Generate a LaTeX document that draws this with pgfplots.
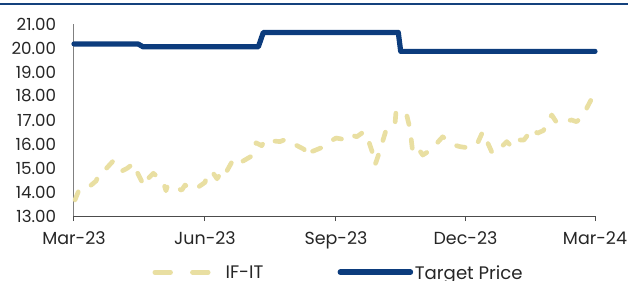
\documentclass[border=0pt]{standalone}
\usepackage{pgfplots}
\pgfplotsset{compat=1.18}
\usepackage{fontspec}
\setmainfont{Poppins}
\definecolor{khaki}{RGB}{233,223,162}
\definecolor{navy}{RGB}{12,60,125}
\definecolor{topblue}{RGB}{20,65,125}
\definecolor{axgray}{RGB}{128,128,128}
\definecolor{txt}{RGB}{38,38,38}
\pgfplotstableread{
day val
0.7 13.67
3.0 14.01
6.5 14.01
15.5 14.46
17.8 14.78
21.3 14.89
27.6 15.30
31.1 15.20
34.2 14.89
37.4 14.99
39.8 15.10
41.7 15.20
43.6 14.92
49.2 14.25
52.2 14.57
55.7 14.78
62.7 14.43
64.6 14.05
65.8 14.29
75.7 14.08
78.0 14.29
81.5 14.15
85.0 14.11
92.0 14.40
94.1 14.82
97.6 14.80
100.5 14.55
102.6 14.75
104.9 14.61
111.9 15.36
116.1 15.20
120.8 15.36
126.0 15.54
127.9 16.05
131.9 15.93
133.5 16.10
134.9 16.03
137.7 16.14
144.7 16.10
148.9 16.20
152.9 16.05
161.6 15.78
163.9 15.47
167.0 15.68
175.6 15.89
179.8 16.10
184.1 16.25
191.6 16.17
195.1 16.38
198.6 16.30
202.1 16.45
205.1 16.47
209.8 15.61
211.5 15.13
215.0 15.75
219.2 16.58
222.0 16.72
225.5 16.83
226.2 17.35
229.0 17.21
231.3 17.28
233.7 17.21
236.0 16.65
237.9 15.68
241.2 15.86
245.0 15.54
252.4 15.82
255.9 16.10
259.0 16.30
266.9 15.96
271.2 15.89
274.7 15.86
282.9 15.96
287.1 16.51
293.4 15.68
297.0 15.64
299.3 15.75
301.6 15.96
304.0 16.10
306.3 15.96
310.5 15.92
312.2 16.17
316.1 16.17
322.2 16.65
325.5 16.45
329.7 16.56
335.6 17.21
339.1 16.89
342.6 16.93
349.6 17.00
353.1 16.93
357.4 17.17
363.7 17.90
366.0 18.18
}\ififit
\pgfplotstableread{
day val
0 20.17
45 20.17
48.5 20.05
129.5 20.05
133 20.65
227.8 20.65
229.5 19.86
366 19.86
}\target
\begin{document}
\begin{tikzpicture}
\path[use as bounding box] (-55.5pt,-48pt) rectangle (415.5pt,162pt);
\draw[topblue, line width=2pt] (-55.5pt,159pt) -- (415.5pt,159pt);
\begin{axis}[
  at={(0pt,0pt)}, anchor=south west,
  scale only axis, width=390.75pt, height=144pt,
  xmin=0, xmax=366, ymin=13, ymax=21,
  axis x line*=bottom, axis y line*=left,
  axis line style={-},
  x axis line style={color=black!70, line width=0.75pt},
  y axis line style={color=axgray, line width=0.75pt},
  xtick={0,92,184,275,366},
  xticklabels={Mar-23,Jun-23,Sep-23,Dec-23,Mar-24},
  ytick={13,14,15,16,17,18,19,20,21},
  yticklabels={13.00,14.00,15.00,16.00,17.00,18.00,19.00,20.00,21.00},
  ytick style={draw=none},
  xtick style={color=black!70, line width=0.75pt},
  tick align=outside, major tick length=3.75pt,
  yticklabel shift=9.5pt,
  xticklabel shift=7.5pt,
  yticklabel style={font=\fontsize{12.5}{14}\selectfont, text=txt, inner sep=0pt, anchor=east},
  xticklabel style={font=\fontsize{13.1}{15}\selectfont, text=txt, inner sep=0pt, anchor=north},
  legend style={at={(0.1507,-0.2930)}, anchor=west, draw=none, fill=none,
    inner sep=0pt, outer sep=0pt, column sep=0pt,
    font=\fontsize{13.6}{16}\selectfont, text=txt,
    nodes={inner sep=0pt, text depth=0pt}, cells={anchor=west}},
  legend columns=2,
  clip=false,
]
\addplot[khaki, line width=3.5pt, line cap=round, line join=round,
  dash pattern=on 6.5pt off 11.5pt,
  legend image post style={line width=3.6pt, dash pattern=on 11.7pt off 16.5pt},
  legend image code/.code={\draw (0pt,0pt) -- (39.9pt,0pt); \path[draw=none] (0pt,0pt) -- (53pt,0pt);}]
  table[x=day, y=val] {\ififit};
\addlegendentry{\makebox[84pt][l]{IF-IT}}
\addplot[navy, line width=3.9pt, line cap=round, line join=round,
  legend image code/.code={\draw[navy, line width=4.2pt, line cap=round] (0pt,0pt) -- (52.5pt,0pt); \path[draw=none] (0pt,0pt) -- (55.9pt,0pt);}]
  table[x=day, y=val] {\target};
\addlegendentry{Target Price}
\end{axis}
\end{tikzpicture}
\end{document}
